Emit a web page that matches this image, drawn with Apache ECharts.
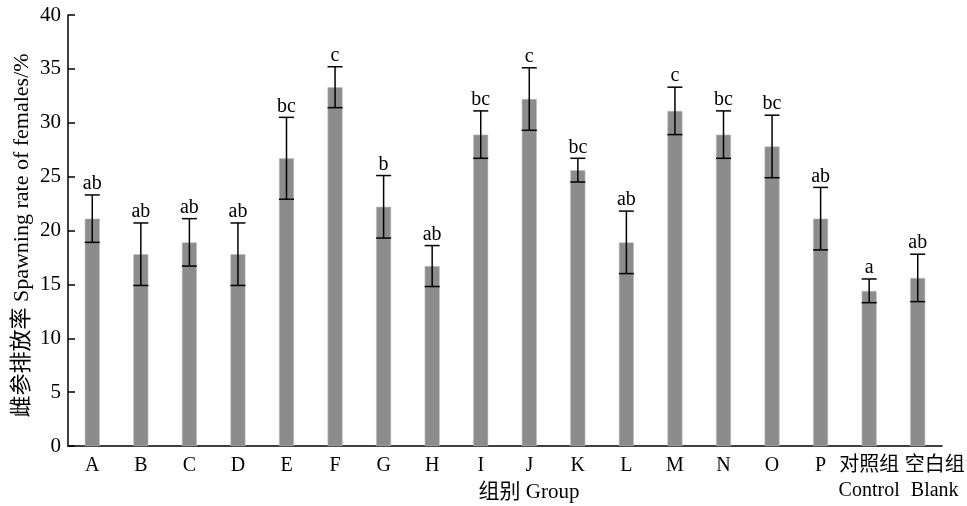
<!DOCTYPE html>
<html>
<head>
<meta charset="utf-8">
<script src="https://cdn.jsdelivr.net/npm/echarts@6/dist/echarts.min.js"></script>
<style>html,body{margin:0;padding:0;background:#fff}#c{width:967px;height:506px}</style>
</head>
<body>
<div id="c"></div>
<script>
var categories = ['A','B','C','D','E','F','G','H','I','J','K','L','M','N','O','P','对照组\nControl','空白组\nBlank'];
var means = [21.1,17.8,18.9,17.8,26.7,33.3,22.2,16.7,28.9,32.2,25.6,18.9,31.1,28.9,27.8,21.1,14.4,15.6];
var errors = [2.2,2.9,2.2,2.9,3.8,1.9,2.9,1.9,2.2,2.9,1.1,2.9,2.2,2.2,2.9,2.9,1.1,2.2];
var letters = ['ab','ab','ab','ab','bc','c','b','ab','bc','c','bc','ab','c','bc','bc','ab','a','ab'];
var yTicks = [0,5,10,15,20,25,30,35,40];

var FONT = '"Liberation Serif", "Times New Roman", "Noto Sans CJK SC", serif';
var chart = echarts.init(document.getElementById('c'));
var errData = means.map(function(m, i){ return [i, m, errors[i]]; });
var catData = categories.map(function(c, i){
  if (i === categories.length - 1) {
    return {value: c, textStyle: {padding: [0, 0, 0, 34]}};
  }
  return c;
});

chart.setOption({
  animation: false,
  grid: {left: 68, right: 25, top: 15, bottom: 60, containLabel: false, outerBoundsMode: 'none'},
  xAxis: {
    type: 'category',
    data: catData,
    name: '组别 Group',
    nameLocation: 'middle',
    nameGap: 36,
    nameMoveOverlap: false,
    nameTextStyle: {fontFamily: FONT, fontSize: 21, color: '#000', padding: [0,0,0,48]},
    axisLine: {lineStyle: {color: '#000', width: 1.5}},
    axisTick: {show: false},
    axisLabel: {fontFamily: FONT, fontSize: 20, color: '#000', margin: 7, lineHeight: 25, interval: 0}
  },
  yAxis: {
    type: 'value',
    min: 0, max: 40, interval: 5,
    name: '雌参排放率 Spawning rate of females/%',
    nameLocation: 'middle',
    nameGap: 35,
    nameMoveOverlap: false,
    nameTextStyle: {fontFamily: FONT, fontSize: 22, color: '#000', padding: [0, 10, 0, 0]},
    axisLine: {show: true, lineStyle: {color: '#000', width: 1.5}},
    axisTick: {show: true, inside: true, length: 7, lineStyle: {color: '#000', width: 1.5}},
    axisLabel: {fontFamily: FONT, fontSize: 21, color: '#000', margin: 7,
      formatter: function(v){ return yTicks.indexOf(v) >= 0 ? String(v) : ''; }},
    splitLine: {show: false}
  },
  series: [
    {
      type: 'bar',
      data: means,
      barWidth: 15,
      itemStyle: {color: '#8c8c8c', borderColor: '#bdbdbd', borderWidth: 0.6},
      z: 2
    },
    {
      type: 'custom',
      data: errData,
      z: 5,
      renderItem: function(params, api){
        var x = api.value(0), m = api.value(1), e = api.value(2);
        var top = api.coord([x, m + e]);
        var bot = api.coord([x, m - e]);
        var hw = 7.5;
        var st = {stroke: '#000', lineWidth: 1.5};
        return {
          type: 'group',
          children: [
            {type: 'line', shape: {x1: top[0], y1: top[1], x2: bot[0], y2: bot[1]}, style: st},
            {type: 'line', shape: {x1: top[0]-hw, y1: top[1], x2: top[0]+hw, y2: top[1]}, style: st},
            {type: 'line', shape: {x1: bot[0]-hw, y1: bot[1], x2: bot[0]+hw, y2: bot[1]}, style: st},
            {type: 'text', x: top[0], y: top[1] - 1,
             style: {text: letters[params.dataIndex], fill: '#000', font: '20px ' + FONT,
                     textAlign: 'center', textVerticalAlign: 'bottom'}}
          ]
        };
      }
    }
  ]
});
</script>
</body>
</html>
